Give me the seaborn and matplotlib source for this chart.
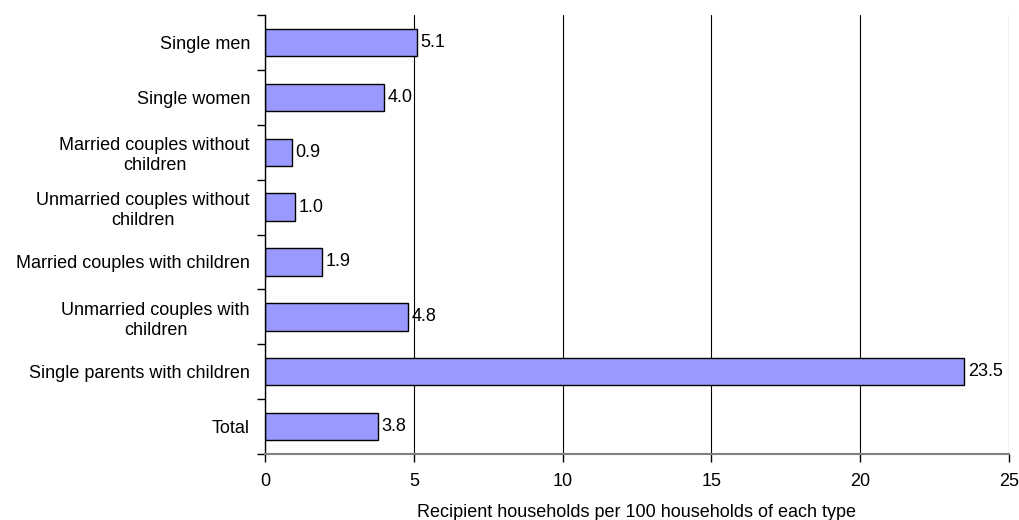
import matplotlib
matplotlib.use("Agg")
import matplotlib.pyplot as plt
import seaborn as sns
import pandas as pd
import numpy as np

# Dados
categories = [
    "Single men",
    "Single women",
    "Married couples without\nchildren",
    "Unmarried couples without\nchildren",
    "Married couples with children",
    "Unmarried couples with\nchildren",
    "Single parents with children",
    "Total",
]
values = [5.1, 4.0, 0.9, 1.0, 1.9, 4.8, 23.5, 3.8]
xticks = [0, 5, 10, 15, 20, 25]

df = pd.DataFrame({"category": categories, "value": values})

sns.set_style("white", {"xtick.bottom": True, "ytick.left": True})
plt.rcParams["font.family"] = ["Liberation Sans", "DejaVu Sans"]
plt.rcParams["text.color"] = "black"
plt.rcParams["xtick.color"] = "black"
plt.rcParams["ytick.color"] = "black"
plt.rcParams["axes.labelcolor"] = "black"

fs = 13

fig = plt.figure(figsize=(10.2, 5.2), dpi=100)
ax = fig.add_axes([0.26, 0.127, 0.729, 0.844])

sns.barplot(data=df, y="category", x="value", orient="h", color="#9999FF",
            edgecolor="black", linewidth=1, width=0.5, saturation=1, ax=ax)

# Rótulos de valor
for i, v in enumerate(values):
    ax.text(v + 0.12, i, f"{v:.1f}", va="center", ha="left", fontsize=fs)

ax.set_xlim(0, 25)
ax.set_ylim(len(categories) - 0.5, -0.5)
ax.set_xticks(xticks)
ax.set_xticklabels([str(t) for t in xticks], fontsize=fs)
ax.tick_params(axis="x", direction="out", length=6, width=1, color="black", pad=8)

ax.set_yticks(range(len(categories)))
ax.set_yticklabels(categories, fontsize=fs, linespacing=1.25, multialignment="center")
ax.tick_params(axis="y", which="major", length=0, pad=11)
ax.set_yticks(np.arange(-0.5, len(categories), 1), minor=True)
ax.tick_params(axis="y", which="minor", direction="out", length=6, width=1, color="black")

# Grade vertical
ax.grid(axis="x", color="black", linewidth=0.8)
ax.grid(axis="y", visible=False)
ax.set_axisbelow(True)

for s in ["top", "right"]:
    ax.spines[s].set_visible(False)
ax.spines["left"].set_color("black")
ax.spines["left"].set_linewidth(1)
ax.spines["bottom"].set_color("#808080")
ax.spines["bottom"].set_linewidth(1.5)

ax.set_ylabel("")
ax.set_xlabel("Recipient households per 100 households of each type", fontsize=fs, labelpad=10)

plt.savefig("out.png", dpi=100)
